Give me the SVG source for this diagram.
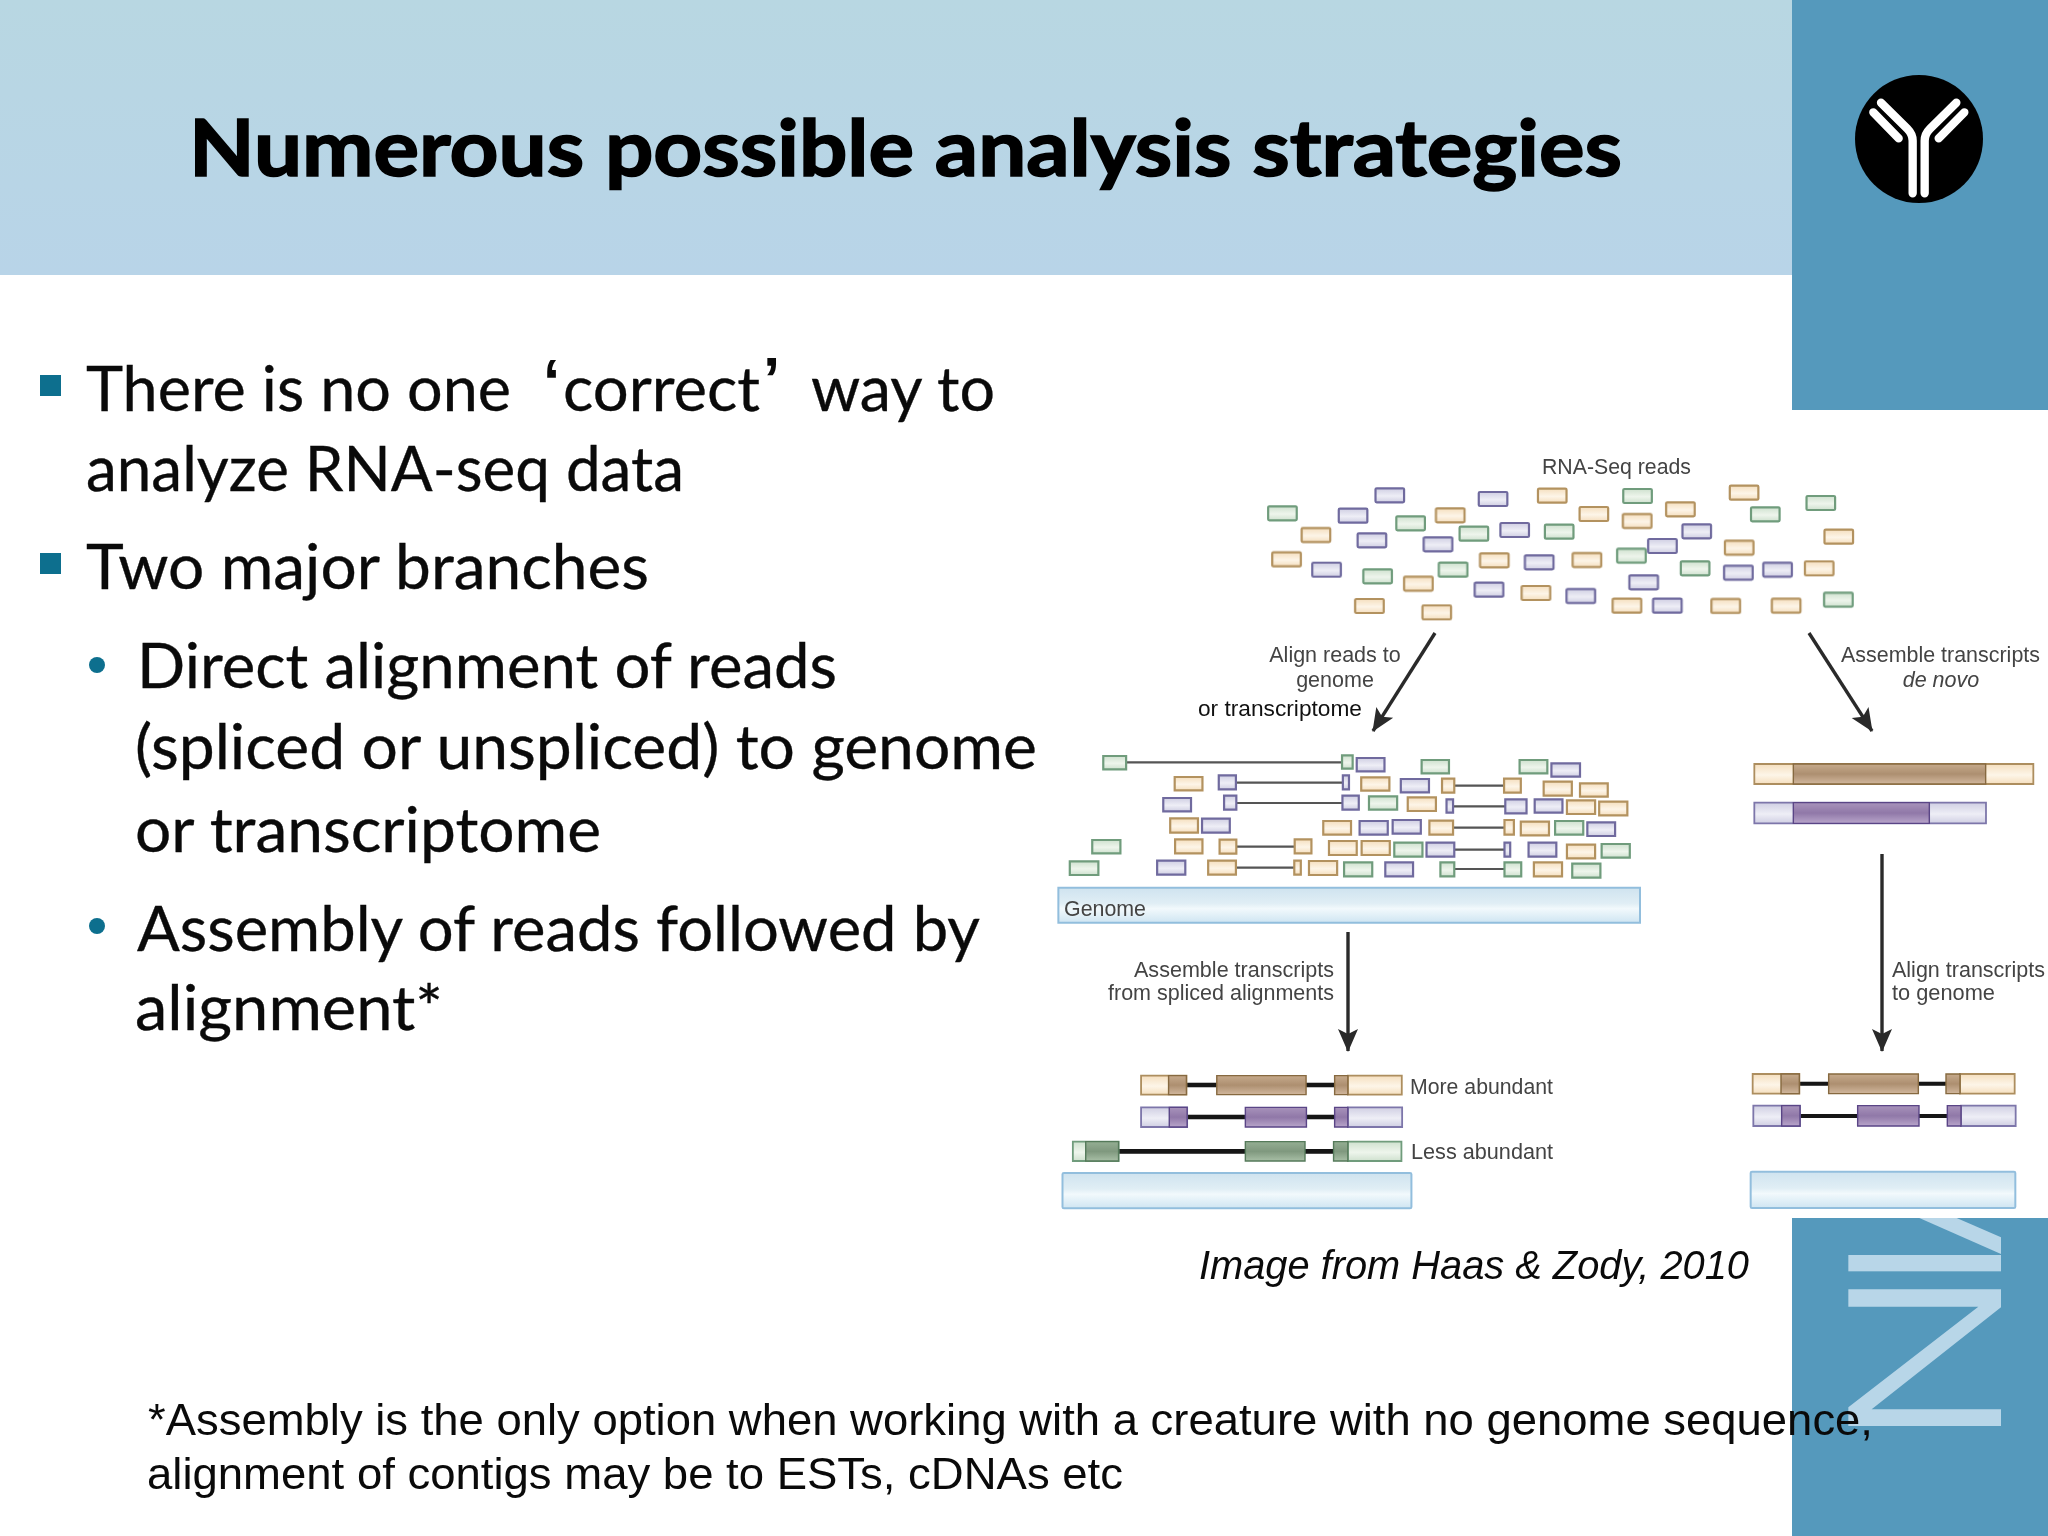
<svg xmlns="http://www.w3.org/2000/svg" xmlns:xlink="http://www.w3.org/1999/xlink" width="2048" height="1536" viewBox="0 0 2048 1536">
<style>
rect{vector-effect:non-scaling-stroke}
.body{font-family:"Lato","Carlito","Liberation Sans",sans-serif;font-size:62px;fill:#0a0a0a;stroke:#0a0a0a;stroke-width:.35}
.quote{font-family:"Liberation Sans",Arial,sans-serif;font-weight:700;font-size:62px;fill:#0a0a0a}
.lab{font-family:"Liberation Sans",Arial,sans-serif;font-size:21.5px;fill:#444}
.note{font-family:"Liberation Sans",Arial,sans-serif;font-size:44px;fill:#0a0a0a}
.g{fill:url(#gG);stroke:#6f9c7c;stroke-width:2.2}
.p{fill:url(#gP);stroke:#6f6a9e;stroke-width:2.2}
.o{fill:url(#gO);stroke:#b3925f;stroke-width:2.2}
.gl{fill:url(#gG);stroke:#6f9c7c;stroke-width:1.8}
.pl{fill:url(#gP);stroke:#7d76aa;stroke-width:1.8}
.ol{fill:url(#gO);stroke:#ad8e5e;stroke-width:1.8}
.gd{fill:url(#gGd);stroke:#557a5a;stroke-width:1.4}
.pd{fill:url(#gPd);stroke:#5a4586;stroke-width:1.4}
.od{fill:url(#gOd);stroke:#86693f;stroke-width:1.4}
.link{stroke:#555;stroke-width:2.2;fill:none;vector-effect:non-scaling-stroke}
.int{stroke:#161616;fill:none}
.bar{fill:url(#gB);stroke:#92bedd;stroke-width:2}
.arrow{stroke:#2a2a2a;stroke-width:3.4;fill:none;marker-end:url(#ah)}
.ico{stroke:#fff;stroke-width:25;fill:none;stroke-linecap:round;stroke-linejoin:round}
.sq{fill:#0d6f8e}
</style>
<defs>
<linearGradient id="gHead" x1="0" y1="0" x2="0" y2="1"><stop offset="0" stop-color="#b8d7e2"/><stop offset="1" stop-color="#b8d4e8"/></linearGradient>
<linearGradient id="gG" x1="0" y1="0" x2="0" y2="1"><stop offset="0" stop-color="#cfe1cf"/><stop offset=".55" stop-color="#eef5ec"/><stop offset="1" stop-color="#cfe1cf"/></linearGradient>
<linearGradient id="gP" x1="0" y1="0" x2="0" y2="1"><stop offset="0" stop-color="#d0cfe3"/><stop offset=".55" stop-color="#eeeef6"/><stop offset="1" stop-color="#d0cfe3"/></linearGradient>
<linearGradient id="gO" x1="0" y1="0" x2="0" y2="1"><stop offset="0" stop-color="#f5dfbf"/><stop offset=".55" stop-color="#fdf5e8"/><stop offset="1" stop-color="#f5dfbf"/></linearGradient>
<linearGradient id="gGd" x1="0" y1="0" x2="0" y2="1"><stop offset="0" stop-color="#94ae93"/><stop offset=".5" stop-color="#7f987e"/><stop offset="1" stop-color="#a8bfa6"/></linearGradient>
<linearGradient id="gPd" x1="0" y1="0" x2="0" y2="1"><stop offset="0" stop-color="#a893bb"/><stop offset=".5" stop-color="#9078a8"/><stop offset="1" stop-color="#b8a5ca"/></linearGradient>
<linearGradient id="gOd" x1="0" y1="0" x2="0" y2="1"><stop offset="0" stop-color="#c6aa8c"/><stop offset=".5" stop-color="#ad8f70"/><stop offset="1" stop-color="#d1b79d"/></linearGradient>
<linearGradient id="gB" x1="0" y1="0" x2="0" y2="1"><stop offset="0" stop-color="#cfe3ef"/><stop offset=".45" stop-color="#e0eef5"/><stop offset=".6" stop-color="#f2f9fc"/><stop offset="1" stop-color="#cfe5f2"/></linearGradient>
<filter id="soft" x="-5%" y="-5%" width="110%" height="110%"><feGaussianBlur stdDeviation="0.6"/></filter>
<marker id="ah" markerUnits="userSpaceOnUse" markerWidth="26" markerHeight="24" refX="22" refY="11" orient="auto"><path d="M0 1L23 11L0 21L5 11Z" fill="#2a2a2a"/></marker>
<rect id="r" x="-35" y="-21" width="70" height="42" rx="3"/>
</defs>

<g id="background">
<rect width="2048" height="1536" fill="#fff"/>
<rect id="header-band" width="1792" height="275" fill="url(#gHead)"/>
<rect id="side-top" x="1792" width="256" height="410" fill="#5599bc"/>
<rect id="side-bottom" x="1792" y="1218" width="256" height="318" fill="#5599bc"/>
<g id="side-letters" transform="translate(1780 1200) scale(.33333)" fill="#b8d6e8">
<polygon points="418,54 530,54 663,112 663,162"/>
<rect x="205" y="165" width="458" height="49"/>
<polygon points="205,268 663,268 663,322 275,628 663,628 663,678 205,678 205,622 595,320 205,320"/>
</g>
<g id="logo">
<circle cx="1919" cy="139" r="64" fill="#000"/>
<g transform="translate(1780 50) scale(.33333)">
<path class="ico" d="M303 158L382 236Q398 252 398 272V430"/><path class="ico" d="M280 187L356 265"/>
<path class="ico" d="M529 158L450 236Q434 252 434 272V430"/><path class="ico" d="M553 187L476 265"/>
</g>
</g>
</g>

<g id="title"><text x="189" y="176" font-family="Lato,Carlito,'Liberation Sans',sans-serif" font-weight="700" font-size="79" fill="#000" stroke="#000" stroke-width="1.6" textLength="1433" lengthAdjust="spacingAndGlyphs">Numerous possible analysis strategies</text></g>

<g id="bullets">
<rect class="sq" x="40" y="375" width="21" height="21"/>
<rect class="sq" x="40" y="553" width="21" height="21"/>
<circle class="sq" cx="97" cy="665" r="8"/>
<circle class="sq" cx="97" cy="926" r="8"/>
<text class="body" x="86" y="411" textLength="425" lengthAdjust="spacingAndGlyphs">There is no one</text>
<text class="quote" x="543" y="402">‘</text>
<text class="body" x="563" y="411" textLength="197" lengthAdjust="spacingAndGlyphs">correct</text>
<text class="quote" x="763" y="400">’</text>
<text class="body" x="811" y="411" textLength="184" lengthAdjust="spacingAndGlyphs">way to</text>
<text class="body" x="86" y="491" textLength="598" lengthAdjust="spacingAndGlyphs">analyze RNA-seq data</text>
<text class="body" x="86" y="589" textLength="563" lengthAdjust="spacingAndGlyphs">Two major branches</text>
<text class="body" x="137" y="688" textLength="700" lengthAdjust="spacingAndGlyphs">Direct alignment of reads</text>
<text class="body" x="135" y="769" textLength="902" lengthAdjust="spacingAndGlyphs">(spliced or unspliced) to genome</text>
<text class="body" x="135" y="852" textLength="466" lengthAdjust="spacingAndGlyphs">or transcriptome</text>
<text class="body" x="137" y="951" textLength="843" lengthAdjust="spacingAndGlyphs">Assembly of reads followed by</text>
<text class="body" x="135" y="1030" textLength="308" lengthAdjust="spacingAndGlyphs">alignment*</text>
</g>

<g id="node-reads" filter="url(#soft)"><g transform="translate(1220 440) scale(.40816 .33333)">
<g class="g"><use xlink:href="#r" x="153" y="220"/><use xlink:href="#r" x="467" y="250"/><use xlink:href="#r" x="622" y="281"/><use xlink:href="#r" x="831" y="275"/><use xlink:href="#r" x="1023" y="168"/><use xlink:href="#r" x="1336" y="223"/><use xlink:href="#r" x="1472" y="189"/><use xlink:href="#r" x="1008" y="347"/><use xlink:href="#r" x="1164" y="385"/><use xlink:href="#r" x="571" y="389"/><use xlink:href="#r" x="386" y="409"/><use xlink:href="#r" x="1515" y="479"/></g>
<g class="p"><use xlink:href="#r" x="416" y="166"/><use xlink:href="#r" x="669" y="177"/><use xlink:href="#r" x="326" y="227"/><use xlink:href="#r" x="722" y="270"/><use xlink:href="#r" x="372" y="301"/><use xlink:href="#r" x="534" y="313"/><use xlink:href="#r" x="261" y="389"/><use xlink:href="#r" x="782" y="367"/><use xlink:href="#r" x="1168" y="274"/><use xlink:href="#r" x="1084" y="318"/><use xlink:href="#r" x="1270" y="398"/><use xlink:href="#r" x="1366" y="389"/><use xlink:href="#r" x="1038" y="427"/><use xlink:href="#r" x="659" y="449"/><use xlink:href="#r" x="884" y="468"/><use xlink:href="#r" x="1096" y="497"/></g>
<g class="o"><use xlink:href="#r" x="814" y="167"/><use xlink:href="#r" x="1284" y="158"/><use xlink:href="#r" x="1128" y="208"/><use xlink:href="#r" x="916" y="222"/><use xlink:href="#r" x="564" y="226"/><use xlink:href="#r" x="1022" y="243"/><use xlink:href="#r" x="235" y="285"/><use xlink:href="#r" x="1516" y="290"/><use xlink:href="#r" x="1272" y="323"/><use xlink:href="#r" x="163" y="358"/><use xlink:href="#r" x="672" y="361"/><use xlink:href="#r" x="899" y="360"/><use xlink:href="#r" x="1468" y="385"/><use xlink:href="#r" x="486" y="431"/><use xlink:href="#r" x="774" y="459"/><use xlink:href="#r" x="366" y="498"/><use xlink:href="#r" x="531" y="517"/><use xlink:href="#r" x="997" y="497"/><use xlink:href="#r" x="1239" y="498"/><use xlink:href="#r" x="1387" y="497"/></g>
</g></g>

<g id="node-genome-alignments" filter="url(#soft)"><g transform="translate(1040 740) scale(.40816 .33333)">
<path class="link" d="M211 67H740M480 128H742M1015 137H1137M481 189H741M1012 199H1140M1012 263H1138M481 320H624M1015 329H1138M480 383H623M1015 387H1138"/>
<g class="g"><rect x="155" y="48" width="56" height="40"/><rect x="740" y="46" width="26" height="40"/><rect x="935" y="60" width="67" height="40"/><rect x="1175" y="60" width="68" height="40"/><rect x="806" y="169" width="69" height="40"/><rect x="1262" y="243" width="69" height="41"/><rect x="128" y="300" width="69" height="40"/><rect x="868" y="308" width="69" height="42"/><rect x="1376" y="312" width="69" height="41"/><rect x="73" y="364" width="70" height="41"/><rect x="745" y="367" width="69" height="42"/><rect x="981" y="367" width="34" height="42"/><rect x="1138" y="367" width="41" height="42"/><rect x="1304" y="371" width="69" height="42"/></g>
<g class="p"><rect x="776" y="54" width="68" height="40"/><rect x="1253" y="70" width="70" height="40"/><rect x="438" y="106" width="42" height="42"/><rect x="742" y="106" width="15" height="42"/><rect x="884" y="117" width="69" height="40"/><rect x="302" y="174" width="68" height="40"/><rect x="451" y="167" width="30" height="42"/><rect x="741" y="167" width="40" height="42"/><rect x="996" y="178" width="16" height="40"/><rect x="1140" y="178" width="52" height="42"/><rect x="1212" y="178" width="68" height="40"/><rect x="397" y="236" width="68" height="42"/><rect x="783" y="243" width="69" height="41"/><rect x="864" y="240" width="69" height="41"/><rect x="1341" y="247" width="68" height="41"/><rect x="947" y="308" width="68" height="42"/><rect x="1138" y="308" width="14" height="42"/><rect x="1197" y="308" width="68" height="42"/><rect x="287" y="362" width="69" height="42"/><rect x="846" y="367" width="68" height="42"/></g>
<g class="o"><rect x="330" y="111" width="68" height="40"/><rect x="787" y="112" width="69" height="40"/><rect x="985" y="116" width="30" height="42"/><rect x="1137" y="116" width="41" height="42"/><rect x="1234" y="125" width="69" height="42"/><rect x="1323" y="130" width="68" height="40"/><rect x="901" y="172" width="69" height="41"/><rect x="1291" y="181" width="69" height="41"/><rect x="1370" y="185" width="69" height="41"/><rect x="319" y="235" width="68" height="43"/><rect x="694" y="243" width="68" height="41"/><rect x="954" y="242" width="58" height="42"/><rect x="1138" y="240" width="23" height="44"/><rect x="1178" y="245" width="69" height="41"/><rect x="331" y="298" width="67" height="42"/><rect x="440" y="299" width="41" height="42"/><rect x="624" y="298" width="41" height="42"/><rect x="708" y="303" width="68" height="42"/><rect x="788" y="303" width="69" height="42"/><rect x="1291" y="314" width="69" height="41"/><rect x="412" y="362" width="68" height="42"/><rect x="623" y="362" width="16" height="42"/><rect x="659" y="363" width="69" height="42"/><rect x="1210" y="367" width="69" height="42"/></g>
<rect class="bar" x="45" y="443" width="1425" height="105"/>
</g></g>

<g id="node-contigs" filter="url(#soft)"><g transform="translate(1720 740) scale(.33333)">
<rect class="ol" x="103" y="72" width="837" height="60"/><rect class="od" x="220" y="72" width="577" height="60"/>
<rect class="pl" x="103" y="188" width="695" height="62"/><rect class="pd" x="220" y="188" width="408" height="62"/>
</g></g>

<g id="node-left-transcripts" filter="url(#soft)"><g transform="translate(1040 1060) scale(.35714 .33333)">
<path class="int" stroke-width="14" d="M410 75H825M412 171H825M220 274H822"/>
<rect class="ol" x="283" y="47" width="127" height="57"/><rect class="od" x="360" y="47" width="50" height="57"/><rect class="od" x="495" y="47" width="250" height="57"/><rect class="ol" x="862" y="47" width="151" height="57"/><rect class="od" x="825" y="47" width="37" height="57"/>
<rect class="pl" x="283" y="142" width="129" height="59"/><rect class="pd" x="362" y="142" width="50" height="59"/><rect class="pd" x="575" y="142" width="171" height="59"/><rect class="pl" x="862" y="142" width="152" height="59"/><rect class="pd" x="825" y="142" width="37" height="59"/>
<rect class="gl" x="92" y="245" width="128" height="58"/><rect class="gd" x="128" y="245" width="92" height="58"/><rect class="gd" x="575" y="245" width="167" height="58"/><rect class="gl" x="862" y="245" width="150" height="58"/><rect class="gd" x="822" y="245" width="40" height="58"/>
<rect class="bar" x="63" y="339" width="977" height="106" rx="4"/>
</g></g>

<g id="node-right-transcripts" filter="url(#soft)"><g transform="translate(1720 1060) scale(.33333)">
<path class="int" stroke-width="12" d="M238 71H678M240 168H682"/>
<rect class="ol" x="98" y="42" width="140" height="59"/><rect class="od" x="183" y="42" width="55" height="59"/><rect class="od" x="326" y="42" width="269" height="59"/><rect class="ol" x="720" y="42" width="164" height="59"/><rect class="od" x="678" y="42" width="42" height="59"/>
<rect class="pl" x="100" y="137" width="140" height="61"/><rect class="pd" x="185" y="137" width="55" height="61"/><rect class="pd" x="413" y="137" width="184" height="61"/><rect class="pl" x="723" y="137" width="164" height="61"/><rect class="pd" x="682" y="137" width="41" height="61"/>
<rect class="bar" x="92" y="335" width="794" height="109" rx="4"/>
</g></g>

<g id="connectors">
<path class="arrow" d="M1435 633L1373 731"/>
<path class="arrow" d="M1809 633L1872 731"/>
<path class="arrow" d="M1348 932V1051"/>
<path class="arrow" d="M1882 854V1051"/>
</g>

<g id="diagram-labels">
<text class="lab" x="1542" y="474" textLength="149" lengthAdjust="spacingAndGlyphs">RNA-Seq reads</text>
<text class="lab" x="1335" y="662" text-anchor="middle">Align reads to</text>
<text class="lab" x="1335" y="687" text-anchor="middle">genome</text>
<text class="lab" x="1198" y="716" style="fill:#111" textLength="164" lengthAdjust="spacingAndGlyphs">or transcriptome</text>
<text class="lab" x="1841" y="662" textLength="199" lengthAdjust="spacingAndGlyphs">Assemble transcripts</text>
<text class="lab" x="1941" y="687" text-anchor="middle" font-style="italic">de novo</text>
<text class="lab" x="1064" y="916" textLength="82" lengthAdjust="spacingAndGlyphs">Genome</text>
<text class="lab" x="1134" y="977" textLength="200" lengthAdjust="spacingAndGlyphs">Assemble transcripts</text>
<text class="lab" x="1108" y="1000" textLength="226" lengthAdjust="spacingAndGlyphs">from spliced alignments</text>
<text class="lab" x="1892" y="977" textLength="153" lengthAdjust="spacingAndGlyphs">Align transcripts</text>
<text class="lab" x="1892" y="1000" textLength="103" lengthAdjust="spacingAndGlyphs">to genome</text>
<text class="lab" x="1410" y="1094" textLength="143" lengthAdjust="spacingAndGlyphs">More abundant</text>
<text class="lab" x="1411" y="1159" textLength="142" lengthAdjust="spacingAndGlyphs">Less abundant</text>
</g>

<g id="notes">
<text class="note" x="1199" y="1279" font-style="italic" style="font-size:41px" textLength="550" lengthAdjust="spacingAndGlyphs">Image from Haas &amp; Zody, 2010</text>
<text class="note" x="148" y="1435" textLength="1725" lengthAdjust="spacingAndGlyphs">*Assembly is the only option when working with a creature with no genome sequence,</text>
<text class="note" x="147" y="1489" textLength="976" lengthAdjust="spacingAndGlyphs">alignment of contigs may be to ESTs, cDNAs etc</text>
</g>
</svg>
